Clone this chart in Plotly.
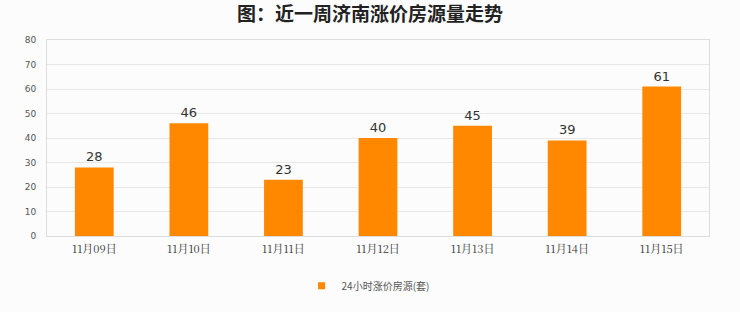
import plotly.graph_objects as go

categories = ["11月09日", "11月10日", "11月11日", "11月12日", "11月13日", "11月14日", "11月15日"]
values = [28, 46, 23, 40, 45, 39, 61]
series_name = "24小时涨价房源(套)"
y_ticks = [0, 10, 20, 30, 40, 50, 60, 70, 80]
title = "图：近一周济南涨价房源量走势"

fig = go.Figure()
fig.add_trace(go.Bar(
    x=categories, y=values, name=series_name, showlegend=False,
    marker=dict(color="#ff8800", line=dict(width=0)),
    width=0.41,
    text=values, textposition="outside",
    textfont=dict(size=13, color="#333333", family="DejaVu Sans"),
    cliponaxis=False,
))
# legend entry with small square symbol
fig.add_trace(go.Scatter(
    x=[None], y=[None], mode="markers", name=series_name,
    marker=dict(symbol="square", size=7, color="#ff8800"),
))

fig.update_layout(
    width=740, height=312,
    margin=dict(l=47, r=31, t=40, b=76),
    paper_bgcolor="#fcfcfc", plot_bgcolor="#fcfcfc",
    title=dict(text="<b>" + title + "</b>", x=0.5, xanchor="center", y=0.955, yanchor="middle",
               font=dict(size=19, color="#222222", family="Noto Sans CJK SC")),
    showlegend=True,
    legend=dict(orientation="h", x=0.485, xanchor="center", y=-0.18, yanchor="top",
                font=dict(size=10, color="#555555", family="Noto Sans CJK SC"),
                itemwidth=30, bgcolor="rgba(0,0,0,0)"),
    xaxis=dict(showgrid=False, showline=True, linecolor="#dddddd", linewidth=1, mirror=True,
               ticks="", ticklabelstandoff=3,
               tickfont=dict(size=11, color="#333333", family="Noto Serif CJK SC, Noto Sans CJK SC"),
               fixedrange=True),
    yaxis=dict(range=[0, 80], tickvals=y_ticks, showgrid=True, gridcolor="#e8e8e8", gridwidth=1,
               showline=True, linecolor="#dddddd", mirror=True, zeroline=False,
               ticks="", ticklabelstandoff=8,
               tickfont=dict(size=9, color="#555555", family="DejaVu Sans")),
)

fig.write_html("out.html")
